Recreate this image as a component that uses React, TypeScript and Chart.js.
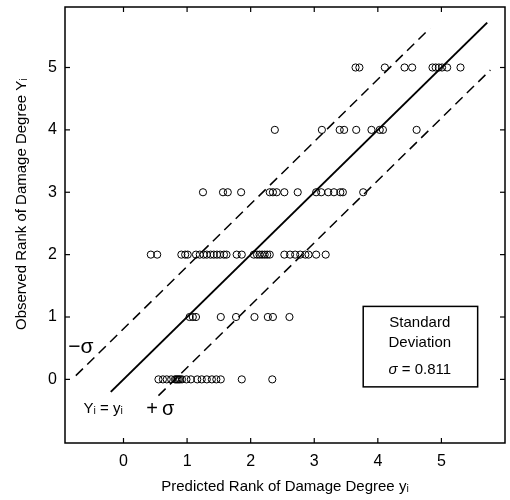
import React, { useEffect, useRef } from 'react';
import { Chart, registerables } from 'chart.js';

Chart.register(...registerables);

// ---- data ----
const rankTicks = [0, 1, 2, 3, 4, 5];
const observedRanks = [0, 1, 2, 3, 4, 5];
const predictedAtRank0 = [0.55, 0.62, 0.68, 0.75, 0.81, 0.83, 0.85, 0.87, 0.89, 0.92, 0.99, 1.06, 1.16, 1.23, 1.31, 1.39, 1.46, 1.53, 1.86, 2.34];
const predictedAtRank1 = [1.04, 1.09, 1.14, 1.53, 1.77, 2.06, 2.27, 2.35, 2.61];
const predictedAtRank2 = [0.43, 0.53, 0.91, 0.97, 1.01, 1.14, 1.2, 1.26, 1.31, 1.37, 1.42, 1.47, 1.52, 1.58, 1.62, 1.78, 1.86, 2.05, 2.1, 2.14, 2.18, 2.22, 2.26, 2.3, 2.53, 2.62, 2.7, 2.78, 2.86, 2.91, 3.03, 3.18];
const predictedAtRank3 = [1.25, 1.565, 1.64, 1.85, 2.3, 2.35, 2.41, 2.53, 2.74, 3.03, 3.11, 3.22, 3.31, 3.41, 3.45, 3.77];
const predictedAtRank4 = [2.38, 3.12, 3.4, 3.47, 3.66, 3.9, 4.03, 4.08, 4.61];
const predictedAtRank5 = [3.65, 3.71, 4.11, 4.42, 4.54, 4.86, 4.91, 4.96, 5.01, 5.09, 5.3];
const predictedByRank = [predictedAtRank0, predictedAtRank1, predictedAtRank2, predictedAtRank3, predictedAtRank4, predictedAtRank5];

const sigmaLabel = '0.811';
const identityX = [-0.2, 5.72];
const identityY = [-0.2, 5.72];
const minusSigmaX = [-0.75, 4.82];
const minusSigmaY = [0.06, 5.63];
const plusSigmaX = [0.55, 5.77];
const plusSigmaY = [-0.26, 4.96];

const xTitle = 'Predicted Rank of Damage Degree y\u1D62';
const yTitle = '\u00A0'.repeat(10) + 'Observed Rank of Damage Degree Y\u1D62';
const boxLines = ['Standard', 'Deviation'];

const FONT = '"Liberation Sans", Arial, Helvetica, sans-serif';

const framePlugin = {
  id: 'frameAndNotes',
  afterDatasetsDraw(chart: any) {
    const { ctx, chartArea: a, scales } = chart;
    const xs = scales.x;
    const ys = scales.y;
    const X = (v: number) => xs.getPixelForValue(v);
    const Y = (v: number) => ys.getPixelForValue(v);
    ctx.save();
    ctx.strokeStyle = '#000';
    ctx.fillStyle = '#000';
    ctx.lineWidth = 1.5;
    ctx.strokeRect(a.left, a.top, a.right - a.left, a.bottom - a.top);
    ctx.lineWidth = 1.2;
    const seg = (x1: number, y1: number, x2: number, y2: number) => {
      ctx.beginPath();
      ctx.moveTo(x1, y1);
      ctx.lineTo(x2, y2);
      ctx.stroke();
    };
    xs.ticks.forEach((t: any) => {
      const p = X(t.value);
      seg(p, a.bottom, p, a.bottom - 5);
      seg(p, a.top, p, a.top + 5);
    });
    ys.ticks.forEach((t: any) => {
      const p = Y(t.value);
      seg(a.left, p, a.left + 5, p);
      seg(a.right, p, a.right - 5, p);
    });

    // annotations
    ctx.textBaseline = 'middle';
    ctx.textAlign = 'center';
    ctx.font = `21px ${FONT}`;
    ctx.fillText('\u2212\u03C3', X(-0.67), Y(0.52));
    ctx.font = `20px ${FONT}`;
    ctx.fillText('+\u2009\u03C3', X(0.58), Y(-0.48));
    ctx.font = `15px ${FONT}`;
    ctx.fillText('Y\u1D62 = y\u1D62', X(-0.32), Y(-0.48));

    // standard deviation box
    const bx1 = X(3.77), bx2 = X(5.57), by1 = Y(1.17), by2 = Y(-0.12);
    ctx.lineWidth = 1.5;
    ctx.strokeRect(bx1, by1, bx2 - bx1, by2 - by1);
    const cx = X(4.66);
    ctx.font = `15px ${FONT}`;
    ctx.fillText(boxLines[0], cx, Y(0.91));
    ctx.fillText(boxLines[1], cx, Y(0.58));
    const rest = ' = ' + sigmaLabel;
    ctx.font = `italic 15px ${FONT}`;
    const w1 = ctx.measureText('\u03C3').width;
    ctx.font = `15px ${FONT}`;
    const w2 = ctx.measureText(rest).width;
    const start = cx - (w1 + w2) / 2;
    ctx.textAlign = 'left';
    ctx.font = `italic 15px ${FONT}`;
    ctx.fillText('\u03C3', start, Y(0.15));
    ctx.font = `15px ${FONT}`;
    ctx.fillText(rest, start + w1, Y(0.15));
    ctx.restore();
  },
};

export default function App() {
  const ref = useRef<HTMLCanvasElement | null>(null);

  useEffect(() => {
    if (!ref.current) return;
    const points: { x: number; y: number }[] = [];
    observedRanks.forEach((r, i) => {
      predictedByRank[i].forEach((p) => points.push({ x: p, y: r }));
    });
    const lineDs = (xsArr: number[], ysArr: number[], dash: number[], width: number) => ({
      type: 'line' as const,
      data: xsArr.map((x, i) => ({ x, y: ysArr[i] })),
      borderColor: '#000',
      borderWidth: width,
      borderDash: dash,
      pointRadius: 0,
      fill: false,
      showLine: true,
    });
    const keepRanks = (scale: any) => {
      scale.ticks = scale.ticks.filter((t: any) => rankTicks.includes(Math.round(t.value * 1000) / 1000));
    };
    const chart = new Chart(ref.current, {
      type: 'scatter',
      data: {
        datasets: [
          lineDs(identityX, identityY, [], 2),
          lineDs(minusSigmaX, minusSigmaY, [10, 6], 1.5),
          lineDs(plusSigmaX, plusSigmaY, [10, 6], 1.5),
          {
            type: 'scatter',
            data: points,
            pointStyle: 'circle',
            pointRadius: 3.6,
            pointBorderWidth: 1,
            borderColor: '#000',
            backgroundColor: 'rgba(0,0,0,0)',
            pointBackgroundColor: 'rgba(0,0,0,0)',
            pointBorderColor: '#000',
          } as any,
        ],
      },
      options: {
        responsive: false,
        animation: false,
        layout: { padding: { top: 7, right: 5, left: 0, bottom: 0 } },
        plugins: { legend: { display: false }, tooltip: { enabled: false } },
        scales: {
          x: {
            type: 'linear',
            min: -0.92,
            max: 6.0,
            grid: { display: false, drawTicks: false },
            border: { display: false },
            ticks: { stepSize: 1, includeBounds: false, padding: 9, color: '#000', font: { family: FONT, size: 16 } },
            afterBuildTicks: keepRanks,
            afterFit: (s: any) => { s.height = 57; s.paddingLeft = 0; s.paddingRight = 0; },
            title: { display: true, text: xTitle, color: '#000', font: { family: FONT, size: 15 }, padding: { top: 0, bottom: 4 } },
          },
          y: {
            type: 'linear',
            min: -1.02,
            max: 5.97,
            grid: { display: false, drawTicks: false },
            border: { display: false },
            ticks: { stepSize: 1, includeBounds: false, padding: 8, color: '#000', font: { family: FONT, size: 16 } },
            afterBuildTicks: keepRanks,
            afterFit: (s: any) => { s.width = 65; s.paddingTop = 0; s.paddingBottom = 0; },
            title: { display: true, text: yTitle, color: '#000', font: { family: FONT, size: 15 }, padding: { top: 13, bottom: 0 } },
          },
        },
      },
      plugins: [framePlugin],
    } as any);
    return () => chart.destroy();
  }, []);

  return (
    <div style={{ position: 'absolute', left: 0, top: 0, width: 510, height: 500, background: '#fff' }}>
      <canvas ref={ref} width={510} height={500} style={{ display: 'block' }} />
    </div>
  );
}
